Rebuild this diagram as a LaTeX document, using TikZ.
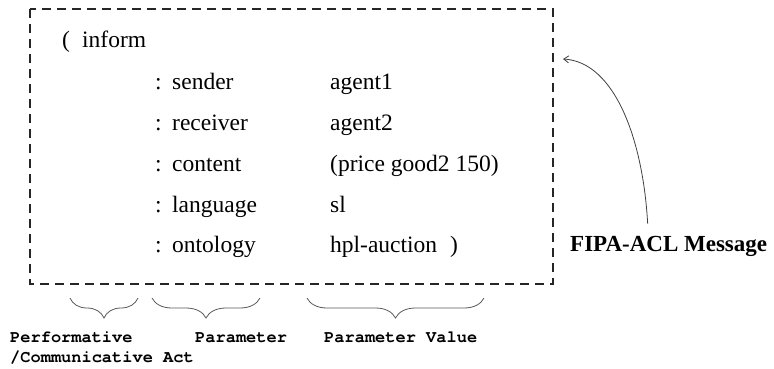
\documentclass[tikz,border=0pt]{standalone}
\usepackage{fontspec}
\setmainfont{Liberation Serif}
\newfontfamily\codefont{texgyrecursor}[Extension=.otf,UprightFont=*-regular,BoldFont=*-bold]
\usetikzlibrary{arrows.meta,decorations.pathreplacing}
\begin{document}
\begin{tikzpicture}[x=1pt,y=-1pt,
  body/.style={anchor=base west,inner sep=0pt,font=\fontsize{23.5}{28}\selectfont},
  tag/.style={anchor=base west,inner sep=0pt,font=\codefont\bfseries\fontsize{17}{20}\selectfont},
  frame/.style={draw=black!85,line width=2pt,dash pattern=on 9pt off 6pt},
  brc/.style={draw=black!65,line width=0.8pt,decorate,decoration={brace,amplitude=20pt,mirror}},
  pointer/.style={draw=black!75,line width=0.8pt,-{Straight Barb[length=5pt,width=7pt]}}
  ]
\useasboundingbox (0,0) rectangle (774,368);

% message frame
\draw[frame] (30,9) rectangle (553,284);

% performative
\node[body] (lp) at (62,47) {(};
\node[body] (perf) at (82,47) {inform};

% parameter rows
\node[body] (c1) at (155,89) {:};
\node[body] (p1) at (172,89) {sender};
\node[body] (v1) at (330,89) {agent1};

\node[body] (c2) at (155,130) {:};
\node[body] (p2) at (172,130) {receiver};
\node[body] (v2) at (330,130) {agent2};

\node[body] (c3) at (155,171) {:};
\node[body] (p3) at (172,171) {content};
\node[body] (v3) at (330,171) {(price good2 150)};

\node[body] (c4) at (155,212) {:};
\node[body] (p4) at (172,212) {language};
\node[body] (v4) at (330,212) {sl};

\node[body] (c5) at (155,252) {:};
\node[body] (p5) at (172,252) {ontology};
\node[body] (v5) at (330,252) {hpl-auction\hspace{13pt})};

% braces under the frame
\draw[brc] (70,298) -- (138,298);
\draw[brc] (152,298) -- (260,298);
\draw[brc] (307,298) -- (484,298);

% brace captions
\node[tag] (t1) at (10,342) {Performative};
\node[tag] (t1b) at (10,362) {/Communicative Act};
\node[tag] (t2) at (195,342) {Parameter};
\node[tag] (t3) at (324,342) {Parameter Value};

% message caption and its pointer
\node[body,font=\bfseries\fontsize{23}{28}\selectfont] (fipa) at (570,251) {FIPA-ACL Message};
\coordinate (tipend) at (563,59);
\draw[pointer] ([xshift=-21pt,yshift=12pt]fipa.north) .. controls (643,140) and (615,62) .. (tipend);
\end{tikzpicture}
\end{document}
